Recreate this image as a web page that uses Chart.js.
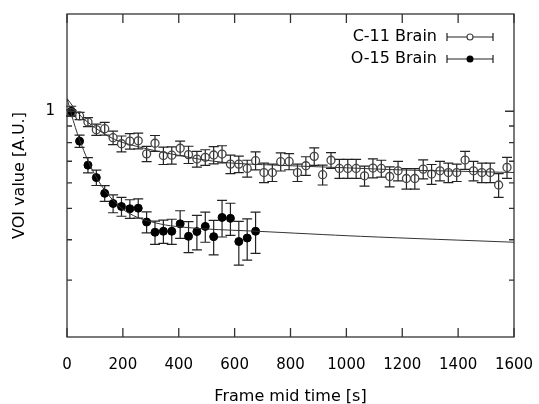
<!DOCTYPE html>
<html lang="en">
<head>
    <meta charset="UTF-8">
    <title>VOI value</title>
    <script src="https://cdn.jsdelivr.net/npm/chart.js"></script>
    <style>
        html, body { margin: 0; padding: 0; background: #fff; }
        #wrap { width: 539px; height: 404px; }
    </style>
</head>
<body>
    <div id="wrap"><canvas id="voiChart" width="539" height="404"></canvas></div>

    <script>
        // series names (legend)
        const seriesNames = ['C-11 Brain', 'O-15 Brain'];

        // C-11 brain: frame mid times [s], VOI values, error
        const c11Time = [15, 45, 75, 105, 135, 165, 195, 225, 255, 285, 315, 345, 375, 405, 435, 465, 495, 525, 555, 585,
            615, 645, 675, 705, 735, 765, 795, 825, 855, 885, 915, 945, 975, 1005, 1035, 1065, 1095, 1125, 1155, 1185,
            1215, 1245, 1275, 1305, 1335, 1365, 1395, 1425, 1455, 1485, 1515, 1545, 1575];
        const c11Value = [0.99, 0.967, 0.926, 0.877, 0.883, 0.828, 0.793, 0.808, 0.81, 0.738, 0.796, 0.729, 0.731, 0.768,
            0.734, 0.711, 0.72, 0.732, 0.737, 0.686, 0.686, 0.665, 0.703, 0.646, 0.646, 0.698, 0.699, 0.646, 0.678, 0.725,
            0.636, 0.705, 0.665, 0.665, 0.665, 0.631, 0.667, 0.665, 0.628, 0.654, 0.619, 0.619, 0.662, 0.639, 0.654,
            0.646, 0.646, 0.706, 0.654, 0.646, 0.646, 0.591, 0.67];
        const c11Err = [0.02, 0.025, 0.03, 0.035, 0.04, 0.04, 0.045, 0.045, 0.045, 0.04, 0.045, 0.045, 0.045, 0.04,
            0.045, 0.04, 0.04, 0.045, 0.045, 0.045, 0.04, 0.04, 0.045, 0.045, 0.04, 0.045, 0.04, 0.04, 0.045, 0.045,
            0.045, 0.04, 0.045, 0.045, 0.045, 0.045, 0.045, 0.04, 0.045, 0.045, 0.045, 0.045, 0.045, 0.045, 0.045,
            0.045, 0.04, 0.045, 0.045, 0.045, 0.045, 0.05, 0.05];

        // O-15 brain
        const o15Time = [15, 45, 75, 105, 135, 165, 195, 225, 255, 285, 315, 345, 375, 405, 435, 465, 495, 525, 555, 585,
            615, 645, 675];
        const o15Value = [1.0, 0.808, 0.681, 0.623, 0.557, 0.518, 0.507, 0.499, 0.501, 0.454, 0.422, 0.425, 0.425, 0.448,
            0.41, 0.424, 0.44, 0.409, 0.469, 0.466, 0.395, 0.405, 0.425];
        const o15Err = [0.036, 0.035, 0.037, 0.034, 0.031, 0.033, 0.034, 0.033, 0.034, 0.034, 0.035, 0.035, 0.038, 0.044,
            0.045, 0.052, 0.047, 0.05, 0.061, 0.053, 0.061, 0.059, 0.062];

        // fitted curves
        const c11FitTime = [0, 50, 100, 150, 200, 300, 400, 500, 600, 800, 1000, 1200, 1400, 1600];
        const c11FitValue = [1.095, 0.965, 0.89, 0.835, 0.8, 0.76, 0.73, 0.705, 0.69, 0.678, 0.668, 0.658, 0.652, 0.646];
        const o15FitTime = [0, 30, 60, 90, 120, 150, 200, 250, 300, 370, 500, 680, 1050, 1600];
        const o15FitValue = [1.095, 0.89, 0.755, 0.66, 0.595, 0.548, 0.497, 0.47, 0.455, 0.442, 0.432, 0.425, 0.41, 0.393];

        // axis ticks
        const xTicks = [0, 200, 400, 600, 800, 1000, 1200, 1400, 1600];
        const yTicks = [0.3, 0.4, 0.5, 0.6, 0.7, 0.8, 0.9, 1];
        const yLabeled = [1];

        const FONT = 'DejaVu Sans';
        const INK = '#222';

        function pts(xs, ys) {
            return xs.map((x, i) => ({ x: x, y: ys[i] }));
        }

        // vertical error bars with caps
        const errorBars = {
            id: 'errorBars',
            beforeDatasetsDraw(chart) {
                const ctx = chart.ctx;
                const xs = chart.scales.x, ys = chart.scales.y;
                ctx.save();
                ctx.strokeStyle = INK;
                ctx.lineWidth = 1.2;
                chart.data.datasets.forEach(ds => {
                    if (!ds.errors) return;
                    ds.data.forEach((p, i) => {
                        const px = xs.getPixelForValue(p.x);
                        const top = ys.getPixelForValue(p.y + ds.errors[i]);
                        const bot = ys.getPixelForValue(p.y - ds.errors[i]);
                        ctx.beginPath();
                        ctx.moveTo(px, top); ctx.lineTo(px, bot);
                        ctx.moveTo(px - 5, top); ctx.lineTo(px + 5, top);
                        ctx.moveTo(px - 5, bot); ctx.lineTo(px + 5, bot);
                        ctx.stroke();
                    });
                });
                ctx.restore();
            }
        };

        // gnuplot style frame with inward ticks on all four sides, plus the key
        const frameAndKey = {
            id: 'frameAndKey',
            afterDraw(chart) {
                const ctx = chart.ctx;
                const a = chart.chartArea;
                const xs = chart.scales.x, ys = chart.scales.y;
                ctx.save();
                ctx.strokeStyle = '#333';
                ctx.lineWidth = 1.3;
                ctx.strokeRect(a.left, a.top, a.right - a.left, a.bottom - a.top);
                ctx.beginPath();
                xTicks.forEach(v => {
                    const px = xs.getPixelForValue(v);
                    ctx.moveTo(px, a.bottom); ctx.lineTo(px, a.bottom - 9);
                    ctx.moveTo(px, a.top); ctx.lineTo(px, a.top + 9);
                });
                yTicks.forEach(v => {
                    const py = ys.getPixelForValue(v);
                    const len = yLabeled.includes(v) ? 9 : 5;
                    ctx.moveTo(a.left, py); ctx.lineTo(a.left + len, py);
                    ctx.moveTo(a.right, py); ctx.lineTo(a.right - len, py);
                });
                ctx.stroke();

                // key
                const rows = [37, 59];
                ctx.font = '16px "' + FONT + '"';
                ctx.fillStyle = '#000';
                ctx.textAlign = 'right';
                ctx.textBaseline = 'middle';
                seriesNames.forEach((name, i) => {
                    const y = rows[i];
                    ctx.fillText(name, 437, y);
                    ctx.strokeStyle = INK;
                    ctx.lineWidth = 1.2;
                    ctx.beginPath();
                    ctx.moveTo(447, y); ctx.lineTo(493, y);
                    ctx.moveTo(447, y - 4); ctx.lineTo(447, y + 4);
                    ctx.moveTo(493, y - 4); ctx.lineTo(493, y + 4);
                    ctx.stroke();
                    ctx.beginPath();
                    ctx.arc(470, y, i === 0 ? 3 : 3.5, 0, Math.PI * 2);
                    if (i === 0) {
                        ctx.fillStyle = '#fff';
                        ctx.fill();
                        ctx.strokeStyle = '#444';
                        ctx.stroke();
                    } else {
                        ctx.fillStyle = '#000';
                        ctx.fill();
                    }
                    ctx.fillStyle = '#000';
                });
                ctx.restore();
            }
        };

        const ctx = document.getElementById('voiChart').getContext('2d');
        const chart = new Chart(ctx, {
            type: 'scatter',
            data: {
                datasets: [{
                    label: seriesNames[0] + ' fit',
                    type: 'line',
                    data: pts(c11FitTime, c11FitValue),
                    borderColor: '#333',
                    borderWidth: 1,
                    pointRadius: 0,
                    tension: 0.3,
                    fill: false
                }, {
                    label: seriesNames[1] + ' fit',
                    type: 'line',
                    data: pts(o15FitTime, o15FitValue),
                    borderColor: '#333',
                    borderWidth: 1,
                    pointRadius: 0,
                    tension: 0.3,
                    fill: false
                }, {
                    label: seriesNames[0],
                    data: pts(c11Time, c11Value),
                    errors: c11Err,
                    pointRadius: 4,
                    borderColor: '#444',
                    borderWidth: 1.3,
                    backgroundColor: 'rgba(0,0,0,0)'
                }, {
                    label: seriesNames[1],
                    data: pts(o15Time, o15Value),
                    errors: o15Err,
                    pointRadius: 4,
                    borderColor: '#000',
                    borderWidth: 1,
                    backgroundColor: '#000'
                }]
            },
            options: {
                responsive: false,
                animation: false,
                devicePixelRatio: 1,
                layout: { padding: { top: 14, right: 25, left: 0, bottom: 0 } },
                plugins: {
                    legend: { display: false },
                    tooltip: { enabled: false }
                },
                scales: {
                    x: {
                        type: 'linear',
                        min: 0,
                        max: 1600,
                        afterBuildTicks: s => { s.ticks = xTicks.map(v => ({ value: v })); },
                        afterFit: s => {
                            s.height = 67;
                            s.paddingLeft = 0;
                            s.paddingRight = 0;
                        },
                        grid: { display: false, drawTicks: false },
                        border: { display: false },
                        ticks: {
                            color: '#000',
                            padding: 19,
                            maxRotation: 0,
                            autoSkip: false,
                            font: { family: FONT, size: 15 },
                            callback: v => String(v)
                        },
                        title: {
                            display: true,
                            text: 'Frame mid time [s]',
                            color: '#000',
                            font: { family: FONT, size: 16 },
                            padding: { top: 0, bottom: -2 }
                        }
                    },
                    y: {
                        type: 'logarithmic',
                        min: 0.2,
                        max: 2,
                        afterBuildTicks: s => { s.ticks = yTicks.map(v => ({ value: v })); },
                        afterFit: s => {
                            s.width = 67;
                            s.paddingTop = 0;
                            s.paddingBottom = 0;
                        },
                        grid: { display: false, drawTicks: false },
                        border: { display: false },
                        ticks: {
                            color: '#000',
                            padding: 12,
                            autoSkip: false,
                            font: { family: FONT, size: 15 },
                            callback: v => (yLabeled.includes(v) ? String(v) : '')
                        },
                        title: {
                            display: true,
                            text: 'VOI value [A.U.]',
                            color: '#000',
                            font: { family: FONT, size: 16 },
                            padding: { top: 10, bottom: 0 }
                        }
                    }
                }
            },
            plugins: [errorBars, frameAndKey]
        });
    </script>
</body>
</html>
